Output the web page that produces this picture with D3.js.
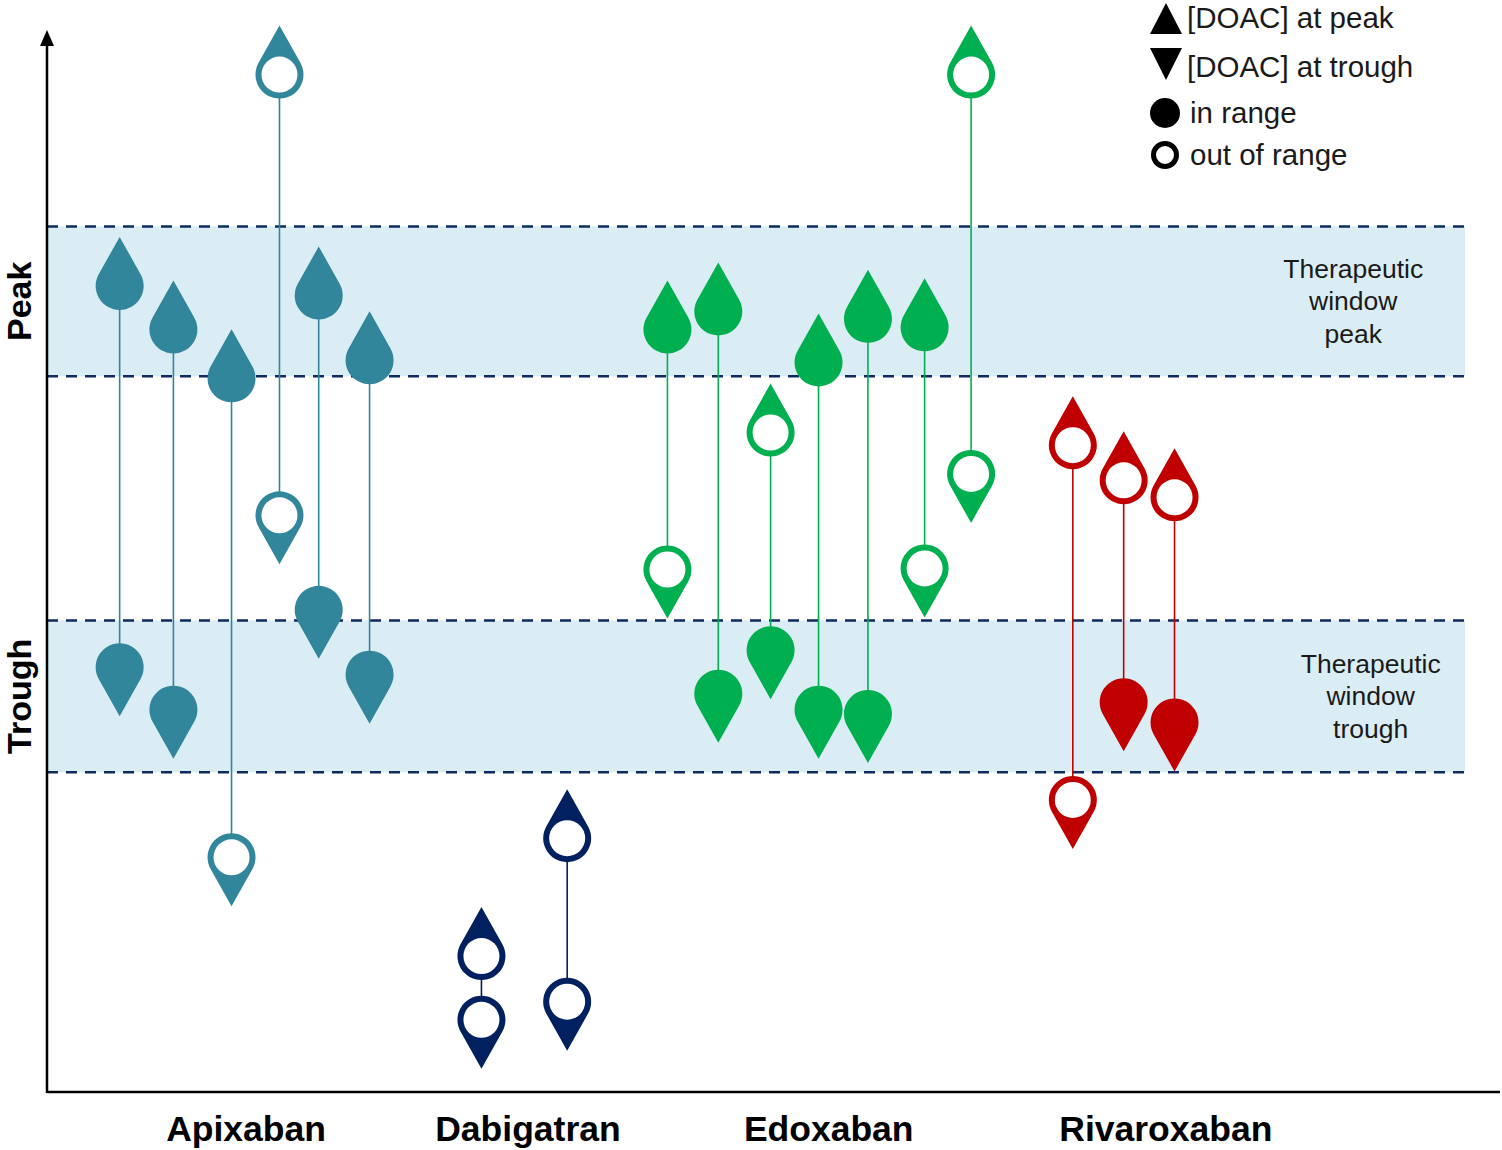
<!DOCTYPE html>
<html><head><meta charset="utf-8">
<script src="https://cdn.jsdelivr.net/npm/d3@7"></script>
<style>body{margin:0;background:#fff;} svg{display:block;}</style>
</head><body>
<svg id="chart" width="1502" height="1150"></svg>
<script>
// ---- Data (relative DOAC concentration, arbitrary units 0–100) ----
const drugs = ["Apixaban", "Dabigatran", "Edoxaban", "Rivaroxaban"];
const drugColors = ["#31869b", "#002060", "#00b050", "#c00000"];
const drugLabelPos = [13.7, 33.1, 53.8, 77.0];

const patientDrug = [0,0,0,0,0,0, 1,1, 2,2,2,2,2,2,2, 3,3,3];
const patientPos  = [5.0, 8.7, 12.7, 16.0, 18.7, 22.2, 29.9, 35.8, 42.7, 46.2, 49.8, 53.1, 56.5, 60.4, 63.6, 70.6, 74.1, 77.6];
const peakValue   = [75.9, 71.8, 67.2, 95.8, 75.0, 68.9, 12.8, 23.9, 71.8, 73.5, 62.1, 68.7, 72.8, 72.0, 95.8, 60.9, 57.6, 56.0];
const troughValue = [40.0, 36.0, 22.1, 54.3, 45.4, 39.3, 6.8, 8.5, 49.2, 37.5, 41.6, 36.0, 35.6, 49.3, 58.2, 27.5, 36.7, 34.8];
const peakInRange   = [1,1,1,0,1,1, 0,0, 1,1,0,1,1,1,0, 0,0,0];
const troughInRange = [1,1,0,0,1,1, 0,0, 0,1,1,1,1,0,0, 0,1,1];

const peakWindow   = [67.4, 81.5];
const troughWindow = [30.1, 44.4];
const bandLabels = [["Therapeutic","window","peak"], ["Therapeutic","window","trough"]];
const bandLabelPos = [89.9, 91.1];
const legendItems = ["[DOAC] at peak", "[DOAC] at trough", "in range", "out of range"];

// ---- Layout ----
const svg = d3.select("#chart");
const x0 = 47, x1 = 1500, yBottom = 1092, yTop = 30;
const x = d3.scaleLinear().domain([0, 100]).range([x0, x1]);
const y = d3.scaleLinear().domain([0, 100]).range([yBottom, yTop]);
const bandRight = 1465;
const font = "'Liberation Sans', Arial, sans-serif";

// bands
[peakWindow, troughWindow].forEach((w, i) => {
  svg.append("rect").attr("x", x0).attr("width", bandRight - x0)
    .attr("y", y(w[1])).attr("height", y(w[0]) - y(w[1]))
    .attr("fill", "#daedf4");
  w.forEach(v => {
    svg.append("line").attr("x1", x0).attr("x2", bandRight)
      .attr("y1", y(v)).attr("y2", y(v))
      .attr("stroke", "#0f2a5e").attr("stroke-width", 2.5)
      .attr("stroke-dasharray", "11,8");
  });
  const cy = (y(w[0]) + y(w[1])) / 2;
  const t = svg.append("text").attr("text-anchor", "middle")
    .attr("font-family", font).attr("font-size", 26.5).attr("fill", "#1a1a1a");
  bandLabels[i].forEach((ln, j) => {
    t.append("tspan").attr("x", x(bandLabelPos[i])).attr("y", cy + (j - 1) * 32.5 + 9).text(ln);
  });
});

// axes
svg.append("line").attr("x1", x0).attr("x2", x1).attr("y1", yBottom).attr("y2", yBottom)
  .attr("stroke", "#000").attr("stroke-width", 2.5);
svg.append("line").attr("x1", x0).attr("x2", x0).attr("y1", yBottom + 1).attr("y2", yTop + 10)
  .attr("stroke", "#000").attr("stroke-width", 2.5);
svg.append("path").attr("d", `M${x0},${yTop} L${x0 + 7},${yTop + 16} L${x0 - 7},${yTop + 16} Z`).attr("fill", "#000");

// axis titles
[["Peak", peakWindow], ["Trough", troughWindow]].forEach(([lab, w]) => {
  const cy = (y(w[0]) + y(w[1])) / 2;
  svg.append("text").attr("transform", `translate(31,${cy}) rotate(-90)`)
    .attr("text-anchor", "middle").attr("font-family", font).attr("font-weight", "bold")
    .attr("font-size", 34).attr("fill", "#000").text(lab);
});

// category labels
drugs.forEach((d, i) => {
  svg.append("text").attr("x", x(drugLabelPos[i])).attr("y", 1141)
    .attr("text-anchor", "middle").attr("font-family", font).attr("font-weight", "bold")
    .attr("font-size", 35.5).attr("fill", "#000").text(d);
});

// marker shape
const R = 24, D = 49, RIN = 18;
function dropPath(up) {
  const s = up ? -1 : 1;
  const tx = R * Math.sqrt(1 - (R / D) ** 2), ty = s * R * R / D;
  return `M0,${s * D} L${tx},${ty} A${R},${R} 0 1 ${up ? 1 : 0} ${-tx},${ty} Z`;
}

const patients = patientPos.map((p, i) => ({
  x: x(p), color: drugColors[patientDrug[i]],
  peak: y(peakValue[i]), trough: y(troughValue[i]),
  peakIn: peakInRange[i], troughIn: troughInRange[i]
}));

const g = svg.append("g");
g.selectAll("line.conn").data(patients).join("line").attr("class", "conn")
  .attr("x1", d => d.x).attr("x2", d => d.x).attr("y1", d => d.peak).attr("y2", d => d.trough)
  .attr("stroke", d => d.color).attr("stroke-width", 1.6);

function drawMarker(d, cy, up, inRange) {
  const m = g.append("g").attr("transform", `translate(${d.x},${cy})`);
  m.append("path").attr("d", dropPath(up)).attr("fill", d.color);
  if (!inRange) m.append("circle").attr("r", RIN).attr("fill", "#fff");
}
patients.forEach(d => {
  drawMarker(d, d.peak, true, d.peakIn);
  drawMarker(d, d.trough, false, d.troughIn);
});

// legend
const lg = svg.append("g");
lg.append("path").attr("d", "M1166,3 L1182,34 L1150,34 Z").attr("fill", "#000");
lg.append("path").attr("d", "M1150,48 L1182,48 L1166,80 Z").attr("fill", "#000");
lg.append("circle").attr("cx", 1165).attr("cy", 113).attr("r", 15).attr("fill", "#000");
lg.append("circle").attr("cx", 1165).attr("cy", 155).attr("r", 11.5).attr("fill", "none")
  .attr("stroke", "#000").attr("stroke-width", 5);
const legY = [28, 77, 123, 165], legX = [1187, 1187, 1190, 1190];
legendItems.forEach((t, i) => {
  lg.append("text").attr("x", legX[i]).attr("y", legY[i]).attr("font-family", font)
    .attr("font-size", 29.5).attr("fill", "#1a1a1a").text(t);
});
</script>
</body></html>
